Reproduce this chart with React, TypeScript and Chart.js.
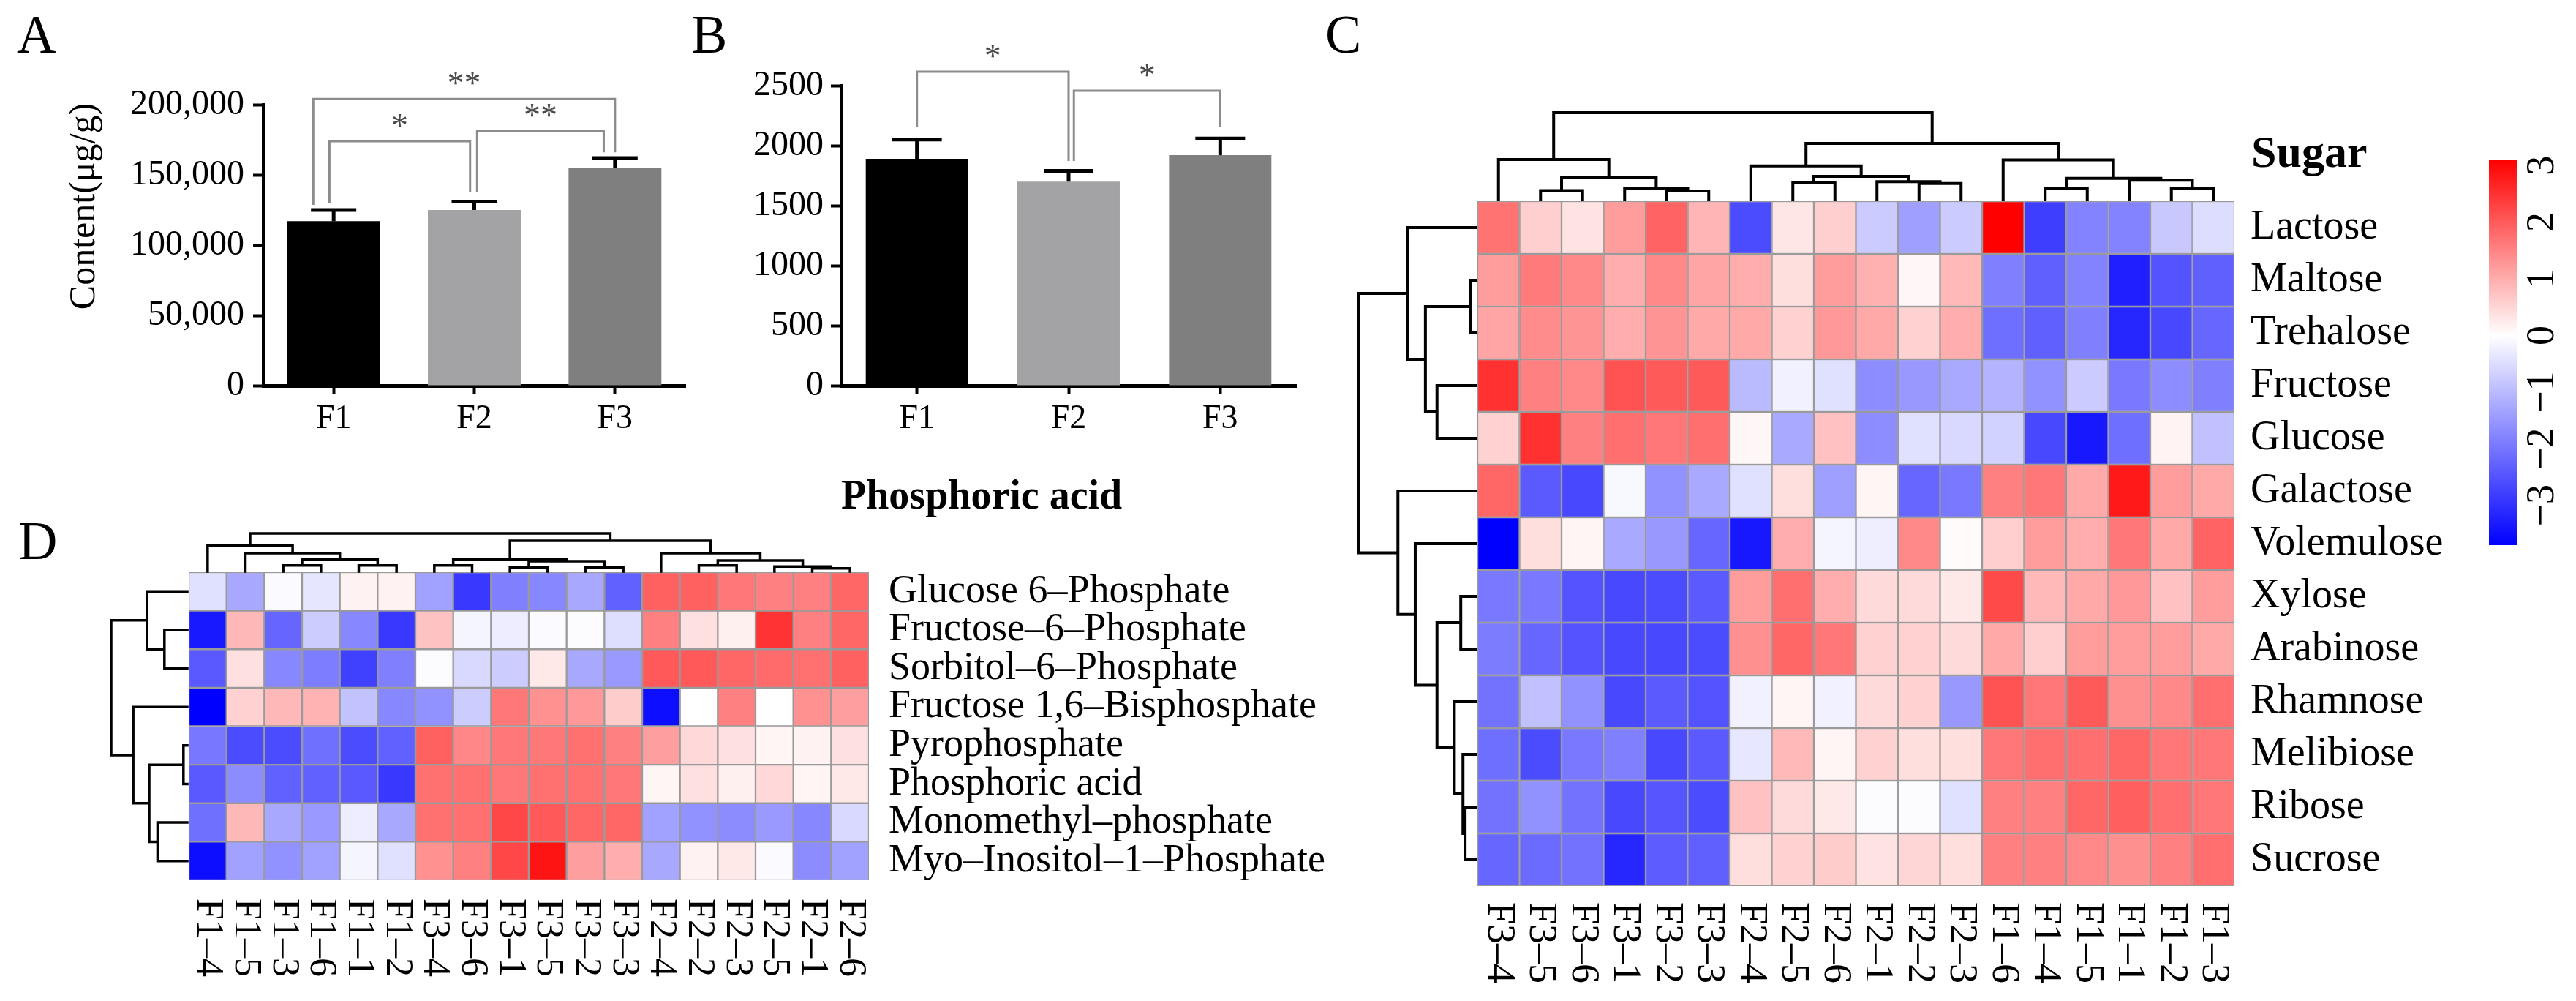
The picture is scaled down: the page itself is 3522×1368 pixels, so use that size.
import React, { useEffect, useRef } from 'react';
import { Chart, registerables } from 'chart.js';

Chart.register(...registerables);

const SERIF = '"Liberation Serif", "Times New Roman", Times, serif';

/* ---------------- Panels A & B (bar charts) ---------------- */
const groups = ['F1', 'F2', 'F3'];
const groupColors = ['#000000', '#a3a3a6', '#7f7f7f'];

const sugarMeans = [117000, 125000, 155000];
const sugarErrors = [8000, 6000, 7000];
const sugarTicks = [0, 50000, 100000, 150000, 200000];

const phosMeans = [1890, 1700, 1920];
const phosErrors = [160, 90, 140];
const phosTicks = [0, 500, 1000, 1500, 2000, 2500];

// significance brackets
const sugarBracketPairs = [[0, 1], [1, 2], [0, 2]];
const sugarBracketLabels = ['*', '**', '**'];
const sugarBracketLevels = [174000, 181200, 204000];
const sugarBracketLegEnds = [[130200, 137500], [137500, 166000], [128600, 166000]];
const sugarBracketShifts = [[-0.03, -0.03], [0.02, -0.08], [-0.145, 0]];

const phosBracketPairs = [[0, 1], [1, 2]];
const phosBracketLabels = ['*', '*'];
const phosBracketLevels = [2616, 2457];
const phosBracketLegEnds = [[2159, 1872], [1872, 2159]];
const phosBracketShifts = [[0, 0], [0.035, 0]];

/* ---------------- Panel C (sugar heatmap) ---------------- */
const sugarSamples = ['F3–4', 'F3–5', 'F3–6', 'F3–1', 'F3–2', 'F3–3', 'F2–4', 'F2–5', 'F2–6', 'F2–1', 'F2–2', 'F2–3', 'F1–6', 'F1–4', 'F1–5', 'F1–1', 'F1–2', 'F1–3'];
const sugarNames = ['Lactose', 'Maltose', 'Trehalose', 'Fructose', 'Glucose', 'Galactose', 'Volemulose', 'Xylose', 'Arabinose', 'Rhamnose', 'Melibiose', 'Ribose', 'Sucrose'];
const sugarZ = [
  [1.7, 0.6, 0.35, 1.2, 1.9, 0.9, -2.6, 0.3, 0.6, -0.75, -1.4, -0.75, 3.1, -2.8, -1.8, -1.8, -0.8, -0.5],
  [1.2, 1.6, 1.45, 1.0, 1.45, 1.1, 1.0, 0.4, 1.2, 0.95, 0.1, 0.85, -1.85, -2.3, -1.8, -3.25, -2.5, -2.3],
  [1.1, 1.4, 1.3, 1.0, 1.3, 1.05, 1.05, 0.55, 1.25, 1.05, 0.55, 1.0, -2.1, -2.3, -1.85, -3.15, -2.65, -2.2],
  [2.5, 1.55, 1.45, 2.1, 2.0, 2.0, -1.0, -0.2, -0.45, -1.65, -1.5, -1.25, -1.1, -1.6, -0.75, -1.95, -1.65, -1.85],
  [0.55, 2.5, 1.55, 1.75, 1.65, 1.75, 0.1, -1.25, 0.75, -1.65, -0.45, -0.55, -0.65, -2.65, -3.35, -2.1, 0.15, -0.9],
  [1.85, -2.4, -2.65, -0.1, -1.6, -1.25, -0.45, 0.4, -1.4, 0.12, -2.2, -1.95, 1.55, 1.65, 1.05, 2.8, 1.2, 1.05],
  [-3.7, 0.4, 0.12, -1.25, -1.5, -2.2, -3.35, 1.0, -0.15, -0.25, 1.45, 0.05, 0.6, 1.2, 1.0, 1.65, 1.05, 1.9],
  [-1.95, -1.95, -2.5, -2.65, -2.6, -2.4, 1.2, 1.75, 1.0, 0.45, 0.45, 0.28, 2.2, 0.85, 1.05, 1.25, 0.75, 1.2],
  [-1.9, -2.2, -2.5, -2.65, -2.65, -2.6, 1.35, 1.85, 1.65, 0.55, 0.55, 0.45, 1.05, 0.6, 1.2, 1.2, 1.2, 1.05],
  [-2.05, -0.9, -1.6, -2.65, -2.4, -2.5, -0.2, 0.12, -0.2, 0.45, 0.55, -1.5, 2.1, 1.65, 2.0, 1.35, 1.45, 1.75],
  [-2.1, -2.6, -1.95, -1.85, -2.65, -2.4, -0.35, 0.85, 0.12, 0.55, 0.4, 0.4, 1.65, 1.75, 1.75, 1.85, 1.65, 1.65],
  [-2.05, -1.6, -2.05, -2.65, -2.45, -2.6, 0.75, 0.45, 0.28, -0.05, -0.05, -0.45, 1.55, 1.55, 1.85, 1.95, 1.75, 1.65],
  [-2.2, -2.15, -2.05, -3.15, -2.35, -2.3, 0.4, 0.55, 0.62, 0.35, 0.5, 0.4, 1.55, 1.55, 1.45, 1.35, 1.55, 1.75],
];
// hclust-style merges: negative = leaf (1-based), positive = earlier merge (1-based); third = relative height
const sugarColMerges = [
  [-2, -3, 0.104], [-5, -6, 0.1], [-4, 2, 0.128], [1, 3, 0.254], [-1, 4, 0.463],
  [-8, -9, 0.194], [-11, -12, 0.188], [-10, 7, 0.209], [6, 8, 0.269], [-7, 9, 0.388],
  [-14, -15, 0.128], [-17, -18, 0.128], [-16, 12, 0.224], [11, 13, 0.245], [-13, 14, 0.457],
  [10, 15, 0.648], [5, 16, 1.0],
];
const sugarRowMerges = [
  [-2, -3, 0.05], [-4, -5, 0.333], [1, 2, 0.432], [-1, 3, 0.586],
  [-12, -13, 0.093], [-11, 5, 0.111], [-10, 6, 0.185], [-8, -9, 0.13], [8, 7, 0.333],
  [-7, 9, 0.519], [-6, 10, 0.667], [4, 11, 1.0],
];
const sugarScaleMin = -3.7;
const sugarScaleMax = 3.1;
const legendTicks = [-3, -2, -1, 0, 1, 2, 3];

/* ---------------- Panel D (phosphoric acid heatmap) ---------------- */
const phosSamples = ['F1–4', 'F1–5', 'F1–3', 'F1–6', 'F1–1', 'F1–2', 'F3–4', 'F3–6', 'F3–1', 'F3–5', 'F3–2', 'F3–3', 'F2–4', 'F2–2', 'F2–3', 'F2–5', 'F2–1', 'F2–6'];
const phosNames = ['Glucose 6–Phosphate', 'Fructose–6–Phosphate', 'Sorbitol–6–Phosphate', 'Fructose 1,6–Bisphosphate', 'Pyrophosphate', 'Phosphoric acid', 'Monomethyl–phosphate', 'Myo–Inositol–1–Phosphate'];
const phosZ = [
  [-0.36, -1.02, -0.06, -0.3, 0.15, 0.15, -1.11, -2.34, -1.5, -1.41, -1.02, -1.86, 1.86, 1.86, 1.59, 1.5, 1.5, 1.8],
  [-2.7, 0.84, -1.8, -0.6, -1.41, -2.34, 0.72, -0.12, -0.21, -0.06, -0.03, -0.39, 1.5, 0.36, 0.18, 2.4, 1.5, 1.8],
  [-1.95, 0.36, -1.41, -1.53, -2.25, -1.5, -0.03, -0.45, -0.6, 0.27, -1.02, -1.2, 1.95, 1.95, 1.8, 1.74, 1.68, 1.86],
  [-3.0, 0.54, 0.84, 0.9, -0.72, -1.41, -1.29, -0.6, 1.59, 1.29, 1.2, 0.6, -2.85, 0, 1.5, 0, 1.29, 1.14],
  [-1.59, -2.1, -2.1, -1.68, -2.1, -1.86, 1.86, 1.41, 1.59, 1.59, 1.68, 1.5, 1.14, 0.45, 0.36, 0.12, 0.15, 0.36],
  [-1.95, -1.35, -1.86, -1.86, -1.95, -2.34, 1.68, 1.68, 1.59, 1.68, 1.68, 1.59, 0.12, 0.36, 0.18, 0.45, 0.12, 0.27],
  [-1.68, 0.84, -1.02, -1.2, -0.21, -1.02, 1.68, 1.68, 2.16, 1.95, 1.8, 1.8, -1.11, -1.29, -1.35, -1.2, -1.41, -0.45],
  [-2.85, -1.11, -1.29, -1.11, -0.12, -0.36, 1.29, 1.5, 2.16, 2.76, 1.14, 0.96, -1.02, 0.15, 0.27, -0.06, -1.35, -1.11],
];
const phosColMerges = [
  [-3, -4, 0.16], [-5, -6, 0.16], [1, 2, 0.32], [-2, 3, 0.48], [-1, 4, 0.68],
  [-7, -8, 0.16], [-9, -10, 0.1], [-11, -12, 0.1], [7, 8, 0.27], [6, 9, 0.32],
  [-14, -15, 0.16], [-17, -18, 0.08], [-16, 12, 0.13], [11, 13, 0.29], [-13, 14, 0.48],
  [10, 15, 0.81], [5, 16, 1.0],
];
const phosRowMerges = [
  [-2, -3, 0.3], [-1, 1, 0.53], [-5, -6, 0.05], [-7, -8, 0.39], [3, 4, 0.5], [-4, 5, 0.71], [2, 6, 1.0],
];
const phosScaleMin = -3;
const phosScaleMax = 3;

/* ---------------- helpers ---------------- */
function heatColor(v: number, vmin: number, vmax: number) {
  if (v >= 0) {
    const t = Math.min(1, v / vmax);
    const c = Math.round(255 * (1 - t));
    return `rgb(255,${c},${c})`;
  }
  const t = Math.min(1, v / vmin);
  const c = Math.round(255 * (1 - t));
  return `rgb(${c},${c},255)`;
}

function drawDendrogram(ctx: CanvasRenderingContext2D, merges: number[][], leafPos: (i: number) => number, base: number, extent: number, dir: 'up' | 'left') {
  const pos: number[] = [];
  const ht: number[] = [];
  const get = (ref: number) => (ref < 0 ? [leafPos(-ref - 1), 0] : [pos[ref - 1], ht[ref - 1]]);
  const px = (h: number) => base - h * extent;
  ctx.beginPath();
  merges.forEach(([a, b, h], k) => {
    const [pa, ha] = get(a);
    const [pb, hb] = get(b);
    if (dir === 'up') {
      ctx.moveTo(pa, px(ha));
      ctx.lineTo(pa, px(h));
      ctx.lineTo(pb, px(h));
      ctx.lineTo(pb, px(hb));
    } else {
      ctx.moveTo(px(ha), pa);
      ctx.lineTo(px(h), pa);
      ctx.lineTo(px(h), pb);
      ctx.lineTo(px(hb), pb);
    }
    pos[k] = (pa + pb) / 2;
    ht[k] = h;
  });
  ctx.stroke();
}

function makeBarChart(canvas: HTMLCanvasElement, cfg: any) {
  const extras = {
    id: 'barExtras',
    afterDatasetsDraw(chart: any) {
      const { ctx } = chart;
      const x = chart.scales.x;
      const y = chart.scales.y;
      const meta = chart.getDatasetMeta(0);
      ctx.save();
      // error bars
      ctx.strokeStyle = '#000';
      ctx.lineWidth = 5;
      cfg.means.forEach((m: number, i: number) => {
        const bx = meta.data[i].x;
        const y0 = y.getPixelForValue(m);
        const y1 = y.getPixelForValue(m + cfg.errors[i]);
        ctx.beginPath();
        ctx.moveTo(bx, y0);
        ctx.lineTo(bx, y1);
        ctx.moveTo(bx - cfg.capHalf, y1);
        ctx.lineTo(bx + cfg.capHalf, y1);
        ctx.stroke();
      });
      // brackets
      cfg.pairs.forEach((p: number[], k: number) => {
        const x0 = x.getPixelForValue(p[0] + cfg.shifts[k][0]);
        const x1 = x.getPixelForValue(p[1] + cfg.shifts[k][1]);
        const yl = y.getPixelForValue(cfg.levels[k]);
        ctx.strokeStyle = '#8c8c8c';
        ctx.lineWidth = 3;
        ctx.beginPath();
        ctx.moveTo(x0, y.getPixelForValue(cfg.legEnds[k][0]));
        ctx.lineTo(x0, yl);
        ctx.lineTo(x1, yl);
        ctx.lineTo(x1, y.getPixelForValue(cfg.legEnds[k][1]));
        ctx.stroke();
        ctx.fillStyle = '#4a4a4a';
        ctx.font = `46px ${SERIF}`;
        ctx.textAlign = 'center';
        ctx.textBaseline = 'alphabetic';
        ctx.fillText(cfg.labels[k], (x0 + x1) / 2, yl - 6);
      });
      ctx.restore();
    },
    afterDraw(chart: any) {
      const { ctx } = chart;
      ctx.save();
      ctx.fillStyle = '#000';
      ctx.textBaseline = 'alphabetic';
      ctx.textAlign = 'left';
      ctx.font = `74px ${SERIF}`;
      ctx.fillText(cfg.letter, cfg.letterX, 72);
      if (cfg.yTitle) {
        ctx.font = `50px ${SERIF}`;
        ctx.translate(cfg.yTitleX, cfg.yTitleY);
        ctx.rotate(-Math.PI / 2);
        ctx.textAlign = 'center';
        ctx.textBaseline = 'middle';
        ctx.fillText(cfg.yTitle, 0, 0);
      }
      ctx.restore();
    },
  };
  return new Chart(canvas, {
    type: 'bar',
    data: {
      labels: groups,
      datasets: [{ data: cfg.means, backgroundColor: groupColors, borderWidth: 0, categoryPercentage: 1, barPercentage: cfg.barPct }],
    },
    options: {
      animation: false,
      responsive: false,
      devicePixelRatio: 1,
      layout: { padding: { left: 0, top: cfg.top, right: cfg.right, bottom: 0 } },
      plugins: { legend: { display: false }, tooltip: { enabled: false } },
      scales: {
        x: {
          type: 'category',
          offset: true,
          z: 1,
          grid: { display: true, drawOnChartArea: false, drawTicks: true, tickLength: 12, tickWidth: 4, tickColor: '#000', color: '#000', offset: false },
          border: { display: true, color: '#000', width: 5 },
          ticks: { color: '#000', font: { family: SERIF, size: 46 }, padding: 6, maxRotation: 0 },
          afterFit: (s: any) => { s.height = cfg.xAxisH; },
        },
        y: {
          min: 0,
          max: cfg.max,
          z: 1,
          grid: { display: true, drawOnChartArea: false, drawTicks: true, tickLength: 14, tickWidth: 4, tickColor: '#000', color: '#000' },
          border: { display: true, color: '#000', width: 5 },
          ticks: {
            color: '#000',
            font: { family: SERIF, size: 48 },
            padding: cfg.tickPad,
            callback: (v: any) => (cfg.commas ? Number(v).toLocaleString('en-US') : String(v)),
          },
          afterBuildTicks: (s: any) => { s.ticks = cfg.ticks.map((v: number) => ({ value: v })); },
          afterFit: (s: any) => { s.width = cfg.yAxisW; },
        },
      },
    },
    plugins: [extras],
  } as any);
}

function makeHeatmap(canvas: HTMLCanvasElement, cfg: any) {
  const extras = {
    id: 'heatExtras',
    afterDraw(chart: any) {
      const { ctx, chartArea } = chart;
      const x = chart.scales.x;
      const y = chart.scales.y;
      ctx.save();
      ctx.strokeStyle = '#000';
      ctx.lineWidth = cfg.dendWidth;
      ctx.lineCap = 'square';
      ctx.lineJoin = 'miter';
      drawDendrogram(ctx, cfg.colMerges, (i) => x.getPixelForValue(i), chartArea.top - cfg.colGap, cfg.colHeight, 'up');
      drawDendrogram(ctx, cfg.rowMerges, (i) => y.getPixelForValue(i + 0.5), chartArea.left - cfg.rowGap, cfg.rowWidth, 'left');
      // column labels, rotated clockwise
      ctx.fillStyle = '#000';
      ctx.font = `${cfg.colFont}px ${SERIF}`;
      ctx.textAlign = 'left';
      ctx.textBaseline = 'middle';
      cfg.cols.forEach((lab: string, i: number) => {
        ctx.save();
        ctx.translate(x.getPixelForValue(i), chartArea.bottom + cfg.colLabelGap);
        ctx.rotate(Math.PI / 2);
        ctx.fillText(lab, 0, 0);
        ctx.restore();
      });
      // title
      ctx.textBaseline = 'alphabetic';
      ctx.font = `bold ${cfg.titleFont}px ${SERIF}`;
      ctx.fillText(cfg.title, cfg.titleX, cfg.titleY);
      // panel letter
      ctx.font = `74px ${SERIF}`;
      ctx.fillText(cfg.letter, cfg.letterX, cfg.letterY);
      ctx.restore();
    },
  };
  const datasets = cfg.rows.map((name: string, i: number) => ({
    label: name,
    data: cfg.cols.map(() => [i, i + 1]),
    backgroundColor: cfg.values[i].map((v: number) => heatColor(v, cfg.vmin, cfg.vmax)),
    borderColor: '#9a9a9a',
    borderWidth: 1.5,
    borderSkipped: false,
    categoryPercentage: 1,
    barPercentage: 1,
    grouped: false,
    xAxisID: 'x',
    yAxisID: 'y',
  }));
  return new Chart(canvas, {
    type: 'bar',
    data: { labels: cfg.cols, datasets },
    options: {
      animation: false,
      responsive: false,
      devicePixelRatio: 1,
      layout: { padding: cfg.padding },
      plugins: { legend: { display: false }, tooltip: { enabled: false } },
      scales: {
        x: { type: 'category', display: false, offset: true },
        y: { type: 'linear', display: false, min: 0, max: cfg.rows.length, reverse: true },
        rowNames: {
          type: 'category',
          labels: cfg.rows,
          position: 'right',
          offset: true,
          grid: { display: false, drawTicks: false },
          border: { display: false },
          ticks: { color: '#000', font: { family: SERIF, size: cfg.rowFont }, padding: cfg.rowPad, autoSkip: false },
          afterFit: (s: any) => { s.width = cfg.rowAxisW; },
        },
      },
    },
    plugins: [extras],
  } as any);
}

function makeColorBar(canvas: HTMLCanvasElement) {
  return new Chart(canvas, {
    type: 'bar',
    data: {
      labels: ['scale'],
      datasets: [{
        data: [[sugarScaleMin, sugarScaleMax]],
        borderWidth: 0,
        categoryPercentage: 1,
        barPercentage: 1,
        backgroundColor: (c: any) => {
          const chart = c.chart;
          const ys = chart.scales.y;
          if (!chart.chartArea || !ys) return '#ffffff';
          const top = ys.getPixelForValue(sugarScaleMax);
          const bot = ys.getPixelForValue(sugarScaleMin);
          const g = chart.ctx.createLinearGradient(0, top, 0, bot);
          g.addColorStop(0, heatColor(sugarScaleMax, sugarScaleMin, sugarScaleMax));
          g.addColorStop((ys.getPixelForValue(0) - top) / (bot - top), '#ffffff');
          g.addColorStop(1, heatColor(sugarScaleMin, sugarScaleMin, sugarScaleMax));
          return g;
        },
      }],
    },
    options: {
      animation: false,
      responsive: false,
      devicePixelRatio: 1,
      layout: { padding: { left: 23, top: 38, right: 0, bottom: 95 } },
      plugins: { legend: { display: false }, tooltip: { enabled: false } },
      scales: {
        x: { display: false },
        y: {
          position: 'right',
          min: sugarScaleMin,
          max: sugarScaleMax,
          grid: { display: false, drawTicks: false },
          border: { display: false },
          ticks: {
            color: '#000',
            font: { family: SERIF, size: 54 },
            minRotation: 90,
            maxRotation: 90,
            crossAlign: 'center',
            padding: 6,
            callback: (v: any) => (Number(v) < 0 ? '\u2212' + Math.abs(Number(v)) : String(v)),
          },
          afterBuildTicks: (s: any) => { s.ticks = legendTicks.map((v) => ({ value: v })); },
          afterFit: (s: any) => { s.width = 80; },
        },
      },
    },
  } as any);
}

export default function App() {
  const aRef = useRef<HTMLCanvasElement>(null);
  const bRef = useRef<HTMLCanvasElement>(null);
  const cRef = useRef<HTMLCanvasElement>(null);
  const cbRef = useRef<HTMLCanvasElement>(null);
  const dRef = useRef<HTMLCanvasElement>(null);

  useEffect(() => {
    const charts: Chart[] = [];
    charts.push(makeBarChart(aRef.current!, {
      means: sugarMeans, errors: sugarErrors, ticks: sugarTicks, max: 200000, commas: true,
      pairs: sugarBracketPairs, labels: sugarBracketLabels, levels: sugarBracketLevels,
      legEnds: sugarBracketLegEnds, shifts: sugarBracketShifts,
      barPct: 0.66, top: 143, right: 3, xAxisH: 113, yAxisW: 360, tickPad: 12, capHalf: 31,
      letter: 'A', letterX: 23, yTitle: 'Content(μg/g)', yTitleX: 116, yTitleY: 282,
    }));
    charts.push(makeBarChart(bRef.current!, {
      means: phosMeans, errors: phosErrors, ticks: phosTicks, max: 2500, commas: false,
      pairs: phosBracketPairs, labels: phosBracketLabels, levels: phosBracketLevels,
      legEnds: phosBracketLegEnds, shifts: phosBracketShifts,
      barPct: 0.675, top: 117, right: 28, xAxisH: 113, yAxisW: 210, tickPad: 10, capHalf: 34,
      letter: 'B', letterX: 5,
    }));
    charts.push(makeHeatmap(cRef.current!, {
      cols: sugarSamples, rows: sugarNames, values: sugarZ, vmin: sugarScaleMin, vmax: sugarScaleMax,
      colMerges: sugarColMerges, rowMerges: sugarRowMerges,
      padding: { left: 220, top: 275, right: 0, bottom: 157 },
      rowAxisW: 325, rowFont: 56, rowPad: 22,
      colGap: 2, colHeight: 119, rowGap: 2, rowWidth: 160, dendWidth: 4,
      colFont: 54, colLabelGap: 22,
      title: 'Sugar', titleFont: 62, titleX: 1278, titleY: 228,
      letter: 'C', letterX: 12, letterY: 72,
    }));
    charts.push(makeColorBar(cbRef.current!));
    charts.push(makeHeatmap(dRef.current!, {
      cols: phosSamples, rows: phosNames, values: phosZ, vmin: phosScaleMin, vmax: phosScaleMax,
      colMerges: phosColMerges, rowMerges: phosRowMerges,
      padding: { left: 258, top: 142, right: 0, bottom: 165 },
      rowAxisW: 672, rowFont: 54, rowPad: 27,
      colGap: 1, colHeight: 52, rowGap: 2, rowWidth: 104, dendWidth: 3.5,
      colFont: 52, colLabelGap: 25,
      title: 'Phosphoric acid', titleFont: 56, titleX: 1150, titleY: 55,
      letter: 'D', letterX: 25, letterY: 124,
    }));
    return () => charts.forEach((c) => c.destroy());
  }, []);

  const abs = (left: number, top: number): React.CSSProperties => ({ position: 'absolute', left, top });

  return (
    <div style={{ position: 'absolute', left: 0, top: 0, width: 3522, height: 1368, background: '#ffffff', overflow: 'hidden' }}>
      <canvas ref={aRef} width={940} height={640} style={abs(0, 0)} />
      <canvas ref={bRef} width={860} height={640} style={abs(940, 0)} />
      <canvas ref={cRef} width={1580} height={1368} style={abs(1800, 0)} />
      <canvas ref={cbRef} width={142} height={660} style={abs(3380, 180)} />
      <canvas ref={dRef} width={1860} height={728} style={abs(0, 640)} />
    </div>
  );
}
